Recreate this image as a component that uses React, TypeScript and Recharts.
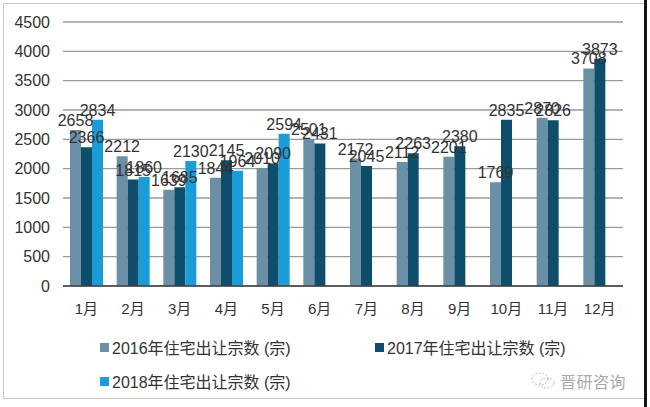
import { BarChart, Bar, XAxis, YAxis, CartesianGrid, LabelList } from "recharts";

const months = ["1月", "2月", "3月", "4月", "5月", "6月", "7月", "8月", "9月", "10月", "11月", "12月"];
const deals2016 = [2658, 2212, 1639, 1844, 2010, 2501, 2172, 2112, 2201, 1769, 2870, 3708];
const deals2017 = [2366, 1815, 1685, 2145, 2090, 2431, 2045, 2263, 2380, 2835, 2826, 3873];
const deals2018 = [2834, 1860, 2130, 1964, 2594, null, null, null, null, null, null, null];
const yTicks = [0, 500, 1000, 1500, 2000, 2500, 3000, 3500, 4000, 4500];

const series = [
  { key: "y2016", name: "2016年住宅出让宗数 (宗)", color: "#6B8FA5" },
  { key: "y2017", name: "2017年住宅出让宗数 (宗)", color: "#0E4E6B" },
  { key: "y2018", name: "2018年住宅出让宗数 (宗)", color: "#1A9CD8" },
];

const data = months.map((m, i) => ({
  month: m,
  y2016: deals2016[i],
  y2017: deals2017[i],
  y2018: deals2018[i],
}));

const FONT = '"Liberation Sans", Arial, "Noto Sans CJK SC", sans-serif';

// legend slots: row / left offset for each series
const legendPos = [
  { left: 100, top: 335 },
  { left: 375, top: 335 },
  { left: 100, top: 369 },
];

export default function App() {
  return (
    <div style={{ position: "absolute", left: 0, top: 0, width: 650, height: 407, background: "#fff", fontFamily: FONT }}>
      <div style={{ position: "absolute", left: 3, top: 3, width: 640, height: 394, border: "1px solid #c8c8c8" }} />
      <div style={{ position: "absolute", left: 644, top: 0, width: 3, height: 407, background: "#151515" }} />
      <BarChart
        width={650}
        height={407}
        data={data}
        margin={{ top: 22, right: 27, bottom: 91, left: 0 }}
        barCategoryGap="15%"
        barGap={0}
        style={{ position: "absolute", left: 0, top: 0 }}
      >
        <CartesianGrid vertical={false} stroke="#9a9a9a" strokeWidth={1.3} />
        <XAxis
          dataKey="month"
          tickLine={false}
          tickSize={0}
          tickMargin={17}
          axisLine={{ stroke: "#404040", strokeWidth: 1.5 }}
          tick={{ fill: "#333", fontSize: 15, fontFamily: FONT }}
          height={30}
          interval={0}
        />
        <YAxis
          domain={[0, 4500]}
          ticks={yTicks}
          width={63}
          tickLine={false}
          tickSize={0}
          tickMargin={13}
          axisLine={false}
          tick={{ fill: "#333", fontSize: 16, fontFamily: FONT }}
        />
        {series.map((s) => (
          <Bar key={s.key} dataKey={s.key} name={s.name} fill={s.color} isAnimationActive={false}>
            <LabelList
              dataKey={s.key}
              position="top"
              offset={4}
              fill="#333"
              fontSize={16}
              fontFamily={FONT}
              formatter={(v: any) => (v == null ? "" : v)}
            />
          </Bar>
        ))}
      </BarChart>
      {series.map((s, i) => (
        <div
          key={s.key}
          style={{
            position: "absolute",
            left: legendPos[i].left,
            top: legendPos[i].top,
            display: "flex",
            alignItems: "center",
            fontSize: 16,
            color: "#333",
            whiteSpace: "nowrap",
          }}
        >
          <span style={{ display: "inline-block", width: 9, height: 9, background: s.color, marginRight: 3 }} />
          {s.name}
        </div>
      ))}
      <svg style={{ position: "absolute", left: 530, top: 371 }} width={26} height={20}>
        <ellipse cx={10} cy={8} rx={8} ry={6} fill="none" stroke="#bbb" strokeWidth={1} strokeDasharray="2 1.5" />
        <ellipse cx={17} cy={12} rx={7} ry={5} fill="none" stroke="#bbb" strokeWidth={1} strokeDasharray="2 1.5" />
      </svg>
      <div style={{ position: "absolute", left: 560, top: 369, fontSize: 16, color: "#aaa", letterSpacing: 0.5 }}>晋研咨询</div>
    </div>
  );
}
